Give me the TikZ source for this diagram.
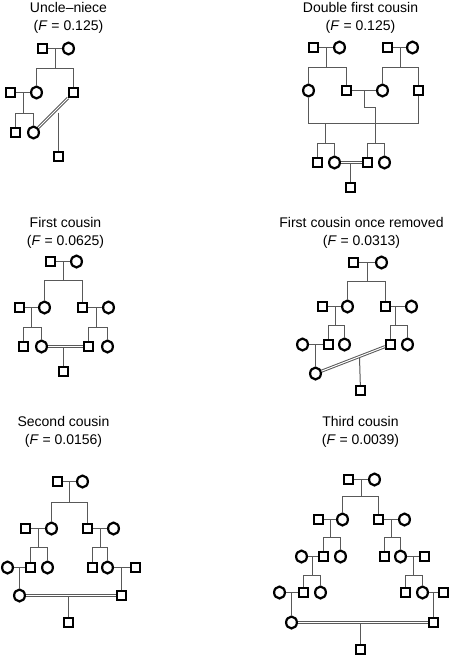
\documentclass[tikz,border=0pt]{standalone}
\usepackage{fontspec}
\setmainfont{Liberation Sans}
\usetikzlibrary{shapes.geometric}
\begin{document}
\begin{tikzpicture}[x=1pt,y=-1pt,
  male/.style={draw,line width=2.2pt,inner sep=0pt,minimum size=8.8pt},
  female/.style={draw,ellipse,line width=2.2pt,inner sep=0pt,minimum width=10.8pt,minimum height=11.8pt},
  ln/.style={draw=black!65,line width=1pt},
  mate/.style={draw=black!65,line width=1pt,double=white,double distance=1pt},
  title/.style={align=center,font=\fontsize{14}{18}\selectfont}]
\useasboundingbox (-0.5,-0.5) rectangle (449.5,656.5);

\node[title] (ta) at (68,17) {Uncle–niece\\(\textit{F} = 0.125)};
\node[male] (a1) at (42,48) {};
\node[female] (a2) at (68,48) {};
\node[male] (a3) at (10,92) {};
\node[female] (a4) at (36,92) {};
\node[male] (a5) at (73,92) {};
\node[male] (a6) at (15,132) {};
\node[female] (a7) at (33,132) {};
\node[male] (a8) at (58,156) {};
\coordinate (ua1) at (55,68);
\coordinate (ua2) at (23,113);
\coordinate (ua3) at (58,112);
\draw[ln] (a1) -- (a2);
\draw[ln] (ua1) -- (ua1 |- a1);
\draw[ln] (a4) |- (ua1) -| (a5);
\draw[ln] (a3) -- (a4);
\draw[ln] (ua2) -- (ua2 |- a3);
\draw[ln] (a6) |- (ua2) -| (a7);
\draw[ln] (ua3) -- (a8);
\draw[mate] (a7) -- (a5);

\node[title] (tb) at (360,17) {Double first cousin\\(\textit{F} = 0.125)};
\node[male] (b1) at (313,47) {};
\node[female] (b2) at (339,47) {};
\node[male] (b3) at (387,47) {};
\node[female] (b4) at (412,47) {};
\node[female] (b5) at (308,90) {};
\node[male] (b6) at (346,90) {};
\node[female] (b7) at (382,90) {};
\node[male] (b8) at (418,90) {};
\node[male] (b9) at (317,162) {};
\node[female] (b10) at (334,162) {};
\node[male] (b11) at (367,162) {};
\node[female] (b12) at (384,162) {};
\node[male] (b13) at (350,187) {};
\coordinate (ub1) at (326,67);
\coordinate (ub2) at (400,67);
\coordinate (ub3) at (364,107);
\coordinate (ub4) at (375,143);
\coordinate (ub5) at (325,123);
\coordinate (ub6) at (325,143);
\coordinate (ub7) at (350,162);
\draw[ln] (b1) -- (b2);
\draw[ln] (ub1) -- (ub1 |- b1);
\draw[ln] (b5) |- (ub1) -| (b6);
\draw[ln] (b3) -- (b4);
\draw[ln] (ub2) -- (ub2 |- b3);
\draw[ln] (b7) |- (ub2) -| (b8);
\draw[ln] (b6) -- (b7);
\draw[ln] (ub3 |- b6) -- (ub3) -| (ub4);
\draw[ln] (b11) |- (ub4) -| (b12);
\draw[ln] (b5) |- (ub5) -| (b8);
\draw[ln] (ub5) -- (ub6);
\draw[ln] (b9) |- (ub6) -| (b10);
\draw[ln] (ub7) -- (b13);
\draw[mate] (b10) -- (b11);

\node[title] (tc) at (65,232) {First cousin\\(\textit{F} = 0.0625)};
\node[male] (c1) at (50,261) {};
\node[female] (c2) at (76,261) {};
\node[male] (c3) at (19,307) {};
\node[female] (c4) at (44,307) {};
\node[male] (c5) at (82,307) {};
\node[female] (c6) at (108,307) {};
\node[male] (c7) at (23,346) {};
\node[female] (c8) at (41,346) {};
\node[male] (c9) at (88,346) {};
\node[female] (c10) at (107,346) {};
\node[male] (c11) at (63,371) {};
\coordinate (uc1) at (63,280);
\coordinate (uc2) at (31,327);
\coordinate (uc3) at (96,327);
\coordinate (uc4) at (63,346);
\draw[ln] (c1) -- (c2);
\draw[ln] (uc1) -- (uc1 |- c1);
\draw[ln] (c4) |- (uc1) -| (c5);
\draw[ln] (c3) -- (c4);
\draw[ln] (uc2) -- (uc2 |- c3);
\draw[ln] (c7) |- (uc2) -| (c8);
\draw[ln] (c5) -- (c6);
\draw[ln] (uc3) -- (uc3 |- c5);
\draw[ln] (c9) |- (uc3) -| (c10);
\draw[ln] (uc4) -- (c11);
\draw[mate] (c8) -- (c9);

\node[title] (td) at (361,232) {First cousin once removed\\(\textit{F} = 0.0313)};
\node[male] (d1) at (353,262) {};
\node[female] (d2) at (381,262) {};
\node[male] (d3) at (322,306) {};
\node[female] (d4) at (347,306) {};
\node[male] (d5) at (385,306) {};
\node[female] (d6) at (411,306) {};
\node[female] (d7) at (302,344) {};
\node[male] (d8) at (328,344) {};
\node[female] (d9) at (344,344) {};
\node[male] (d10) at (390,344) {};
\node[female] (d11) at (407,344) {};
\node[female] (d12) at (315,373) {};
\node[male] (d13) at (360,390) {};
\coordinate (ud1) at (367,281);
\coordinate (ud2) at (335,325);
\coordinate (ud3) at (395,325);
\coordinate (ud4) at (359,357);
\draw[ln] (d1) -- (d2);
\draw[ln] (ud1) -- (ud1 |- d1);
\draw[ln] (d4) |- (ud1) -| (d5);
\draw[ln] (d3) -- (d4);
\draw[ln] (ud2) -- (ud2 |- d3);
\draw[ln] (d8) |- (ud2) -| (d9);
\draw[ln] (d5) -- (d6);
\draw[ln] (ud3) -- (ud3 |- d5);
\draw[ln] (d10) |- (ud3) -| (d11);
\draw[ln] (d7) -- (d8);
\draw[ln] (d12) -- (d12 |- d7);
\draw[ln] (ud4) -- (d13);
\draw[mate] (d12) -- (d10);

\node[title] (te) at (63,431) {Second cousin\\(\textit{F} = 0.0156)};
\node[male] (e1) at (57,481) {};
\node[female] (e2) at (82,481) {};
\node[male] (e3) at (25,528) {};
\node[female] (e4) at (51,528) {};
\node[male] (e5) at (87,528) {};
\node[female] (e6) at (113,528) {};
\node[female] (e7) at (7,567) {};
\node[male] (e8) at (30,567) {};
\node[female] (e9) at (47,567) {};
\node[male] (e10) at (92,567) {};
\node[female] (e11) at (107,567) {};
\node[male] (e12) at (135,567) {};
\node[female] (e13) at (19,595) {};
\node[male] (e14) at (121,595) {};
\node[male] (e15) at (68,622) {};
\coordinate (ue1) at (69,502);
\coordinate (ue2) at (38,547);
\coordinate (ue3) at (100,547);
\coordinate (ue4) at (68,595);
\draw[ln] (e1) -- (e2);
\draw[ln] (ue1) -- (ue1 |- e1);
\draw[ln] (e4) |- (ue1) -| (e5);
\draw[ln] (e3) -- (e4);
\draw[ln] (ue2) -- (ue2 |- e3);
\draw[ln] (e8) |- (ue2) -| (e9);
\draw[ln] (e5) -- (e6);
\draw[ln] (ue3) -- (ue3 |- e5);
\draw[ln] (e10) |- (ue3) -| (e11);
\draw[ln] (e7) -- (e8);
\draw[ln] (e13) -- (e13 |- e7);
\draw[ln] (e11) -- (e12);
\draw[ln] (e14) -- (e14 |- e11);
\draw[ln] (ue4) -- (e15);
\draw[mate] (e13) -- (e14);

\node[title] (tf) at (360,431) {Third cousin\\(\textit{F} = 0.0039)};
\node[male] (f1) at (348,479) {};
\node[female] (f2) at (374,479) {};
\node[male] (f3) at (318,519) {};
\node[female] (f4) at (342,519) {};
\node[male] (f5) at (378,519) {};
\node[female] (f6) at (404,519) {};
\node[female] (f7) at (301,556) {};
\node[male] (f8) at (323,556) {};
\node[female] (f9) at (340,556) {};
\node[male] (f10) at (384,556) {};
\node[female] (f11) at (400,556) {};
\node[male] (f12) at (424,556) {};
\node[female] (f13) at (279,592) {};
\node[male] (f14) at (303,592) {};
\node[female] (f15) at (320,592) {};
\node[male] (f16) at (405,592) {};
\node[female] (f17) at (422,592) {};
\node[male] (f18) at (443,592) {};
\node[female] (f19) at (291,622) {};
\node[male] (f20) at (433,622) {};
\node[male] (f21) at (360,649) {};
\coordinate (uf1) at (361,496);
\coordinate (uf2) at (330,537);
\coordinate (uf3) at (391,537);
\coordinate (uf4) at (312,575);
\coordinate (uf5) at (413,575);
\coordinate (uf6) at (360,622);
\draw[ln] (f1) -- (f2);
\draw[ln] (uf1) -- (uf1 |- f1);
\draw[ln] (f4) |- (uf1) -| (f5);
\draw[ln] (f3) -- (f4);
\draw[ln] (uf2) -- (uf2 |- f3);
\draw[ln] (f8) |- (uf2) -| (f9);
\draw[ln] (f5) -- (f6);
\draw[ln] (uf3) -- (uf3 |- f5);
\draw[ln] (f10) |- (uf3) -| (f11);
\draw[ln] (f7) -- (f8);
\draw[ln] (uf4) -- (uf4 |- f7);
\draw[ln] (f14) |- (uf4) -| (f15);
\draw[ln] (f11) -- (f12);
\draw[ln] (uf5) -- (uf5 |- f11);
\draw[ln] (f16) |- (uf5) -| (f17);
\draw[ln] (f13) -- (f14);
\draw[ln] (f19) -- (f19 |- f13);
\draw[ln] (f17) -- (f18);
\draw[ln] (f20) -- (f20 |- f17);
\draw[ln] (uf6) -- (f21);
\draw[mate] (f19) -- (f20);
\end{tikzpicture}
\end{document}
